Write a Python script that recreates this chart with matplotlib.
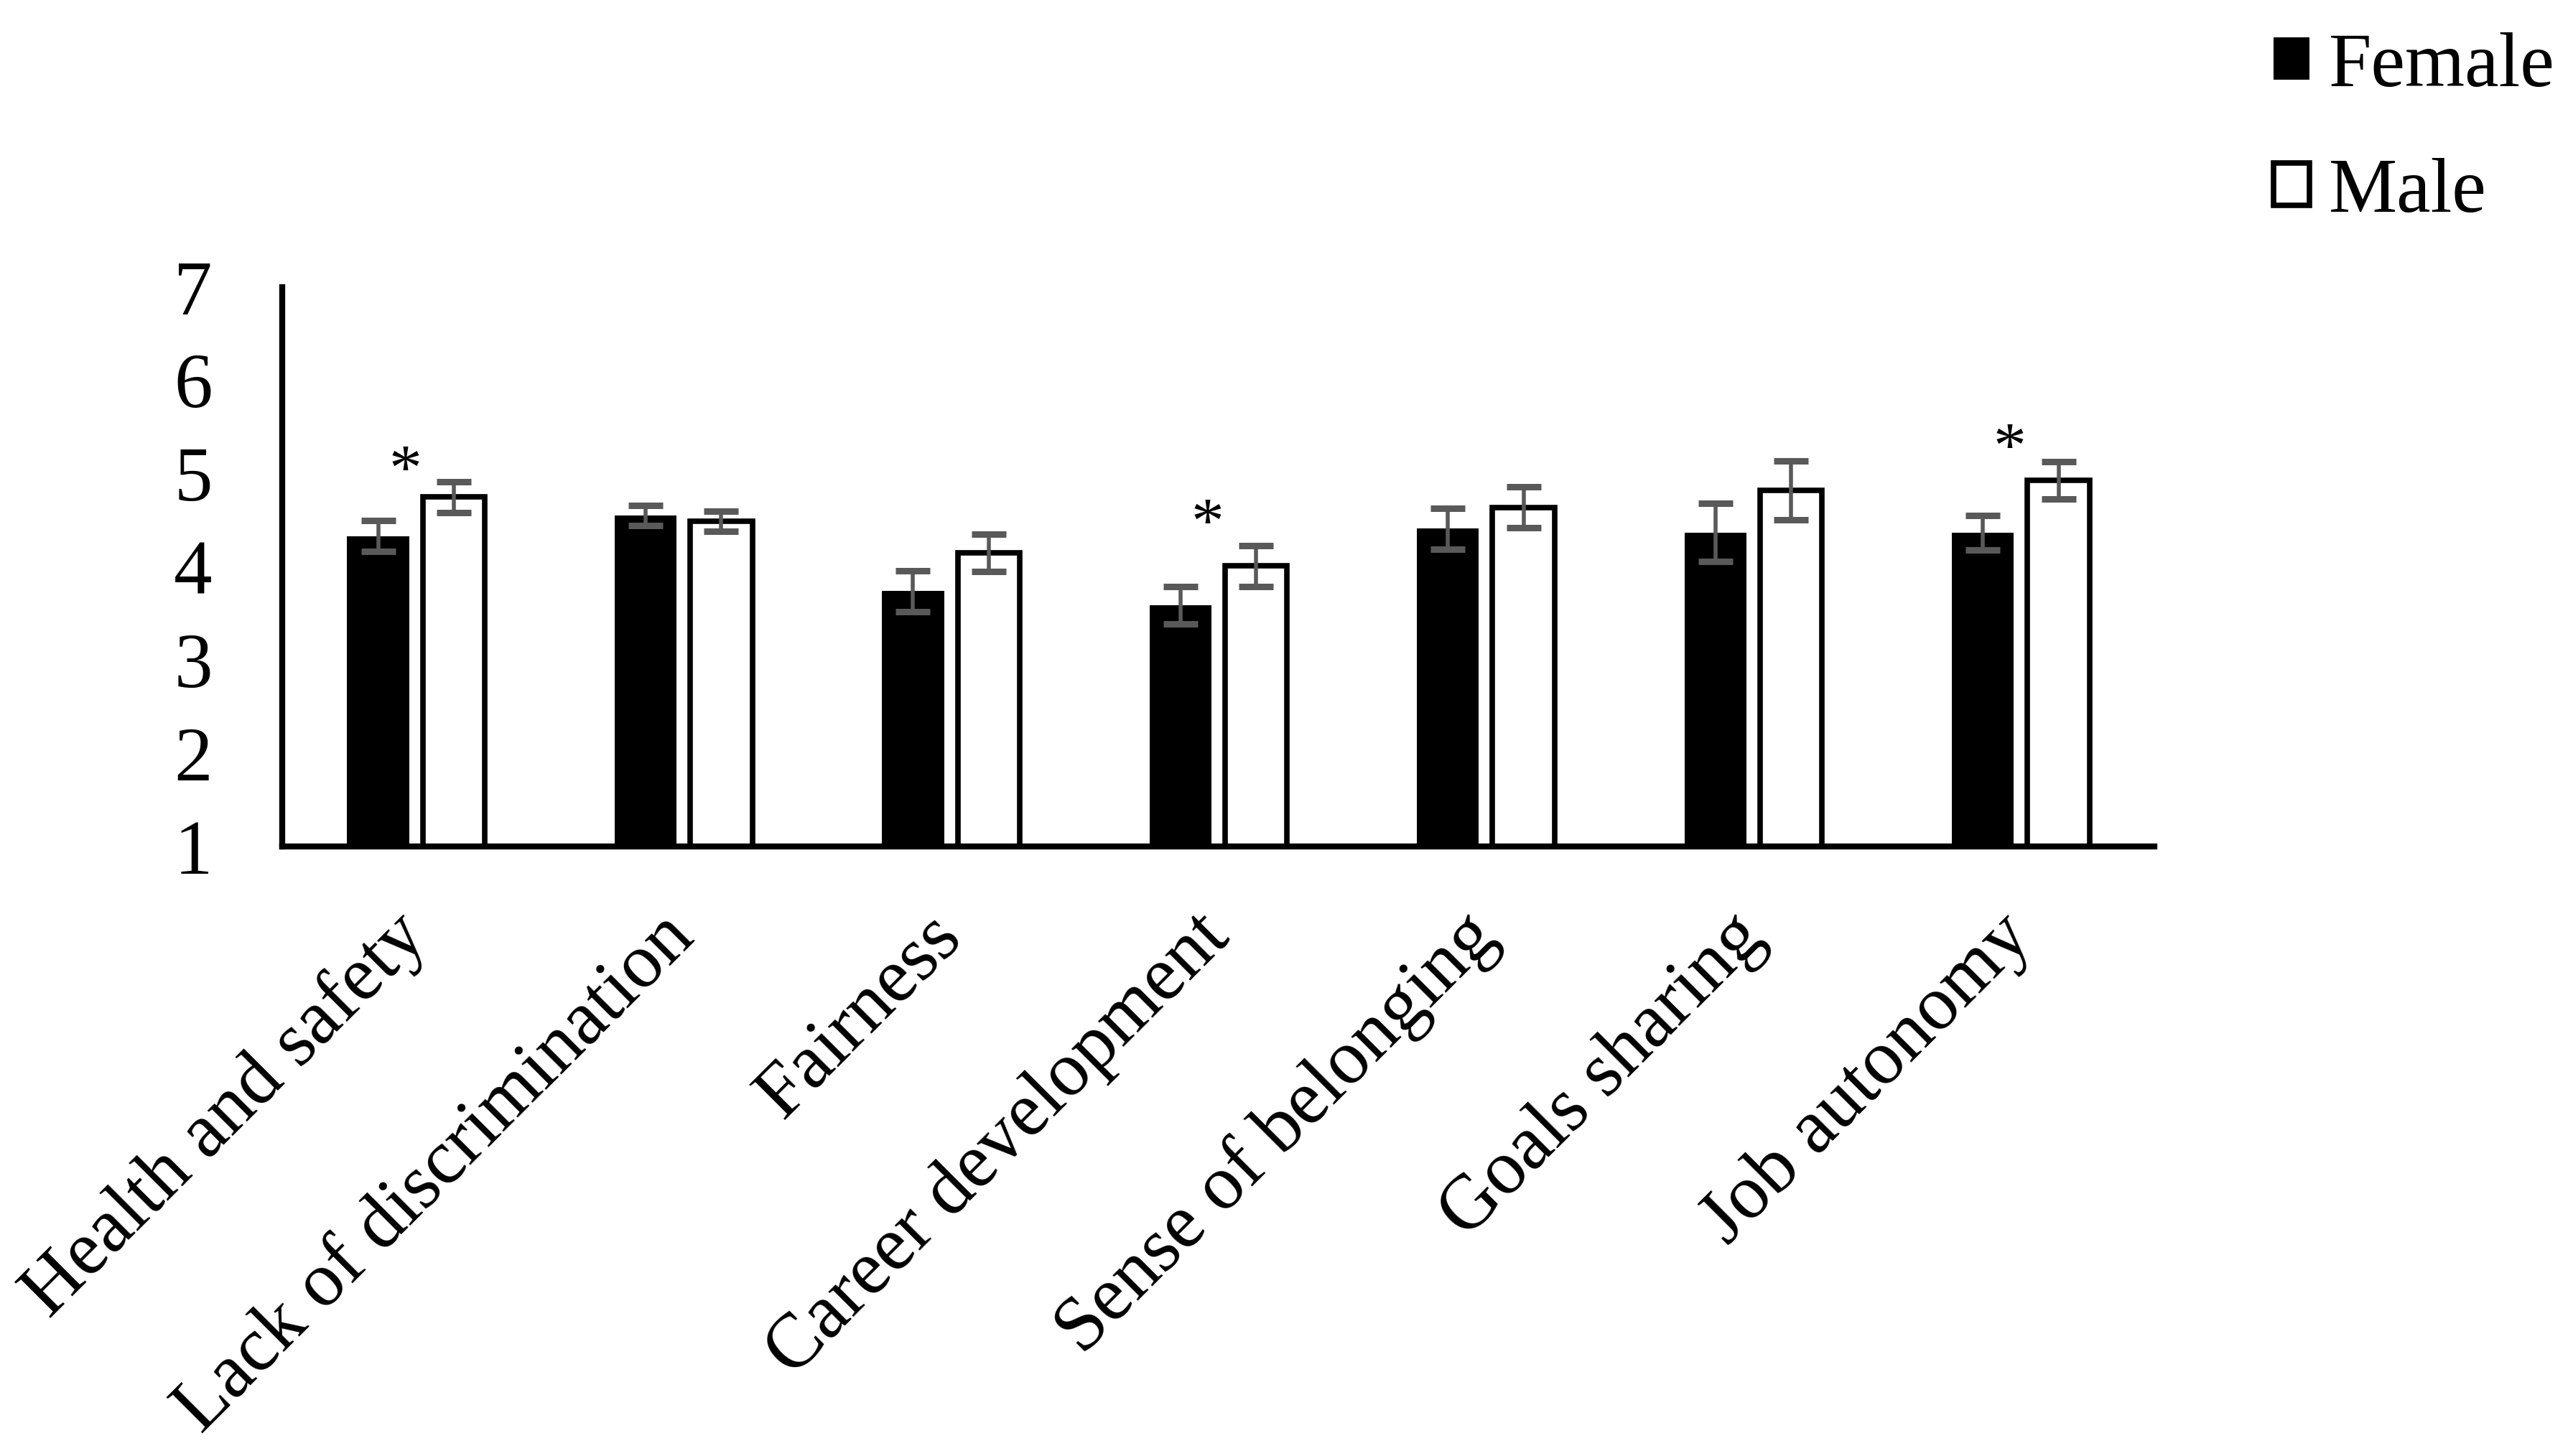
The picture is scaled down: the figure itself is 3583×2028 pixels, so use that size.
import numpy as np
import matplotlib
matplotlib.use("Agg")
import matplotlib.pyplot as plt

categories = ["Health and safety", "Lack of discrimination", "Fairness",
              "Career development", "Sense of belonging", "Goals sharing",
              "Job autonomy"]
female = [4.33, 4.55, 3.74, 3.59, 4.41, 4.37, 4.37]
female_err = [0.165, 0.11, 0.22, 0.20, 0.22, 0.315, 0.185]
male = [4.75, 4.49, 4.15, 4.01, 4.64, 4.82, 4.93]
male_err = [0.165, 0.11, 0.20, 0.22, 0.22, 0.315, 0.20]
sig_idx = [0, 3, 6]
sig_y = [5.15, 4.58, 5.39]
yticks = [1, 2, 3, 4, 5, 6, 7]
series_names = ["Female", "Male"]

plt.rcParams['font.family'] = ['Liberation Serif', 'DejaVu Serif']

fig = plt.figure(figsize=(35.83, 20.28), dpi=100)
ax = fig.add_axes([0.1097, 0.4186, 0.7276, 0.3841])

x = np.arange(len(categories))
off = 0.1415
w = 0.232
err_kw = dict(ecolor='#595959', elinewidth=4, capsize=17.5, capthick=6.5)
b1 = ax.bar(x - off, female, w, color='black', edgecolor='black', linewidth=0,
            yerr=female_err, error_kw=err_kw, label=series_names[0], zorder=2)
b2 = ax.bar(x + off, male, w, color='white', edgecolor='black', linewidth=5.5,
            yerr=male_err, error_kw=err_kw, label=series_names[1], zorder=2)

for i, yv in zip(sig_idx, sig_y):
    ax.annotate('*', xy=(x[i] - 0.04, yv), xytext=(0, -14),
                textcoords='offset points', ha='center', va='center',
                fontsize=66)

ax.set_xlim(-0.5, len(categories) - 0.5)
ax.set_ylim(1, 7)
ax.set_yticks(yticks)
ax.set_yticklabels([str(t) for t in yticks], fontsize=77)
ax.tick_params(axis='y', length=0, pad=70)
ax.set_xticks(x)
ax.set_xticklabels(categories, rotation=45, ha='right', va='center',
                   rotation_mode='anchor', fontsize=77)
ax.tick_params(axis='x', length=0, pad=80)
for s in ['top', 'right']:
    ax.spines[s].set_visible(False)
for s in ['left', 'bottom']:
    ax.spines[s].set_linewidth(6)
    ax.spines[s].set_color('black')
    ax.spines[s].set_zorder(3)

fig.legend(handles=[b1, b2], labels=series_names, loc='upper left',
           bbox_to_anchor=(0.8835, 0.978), frameon=False, fontsize=77,
           handlelength=0.47, handleheight=0.47, handletextpad=0.25,
           labelspacing=0.72, borderpad=0, borderaxespad=0)

fig.savefig("out.png", dpi=100)
